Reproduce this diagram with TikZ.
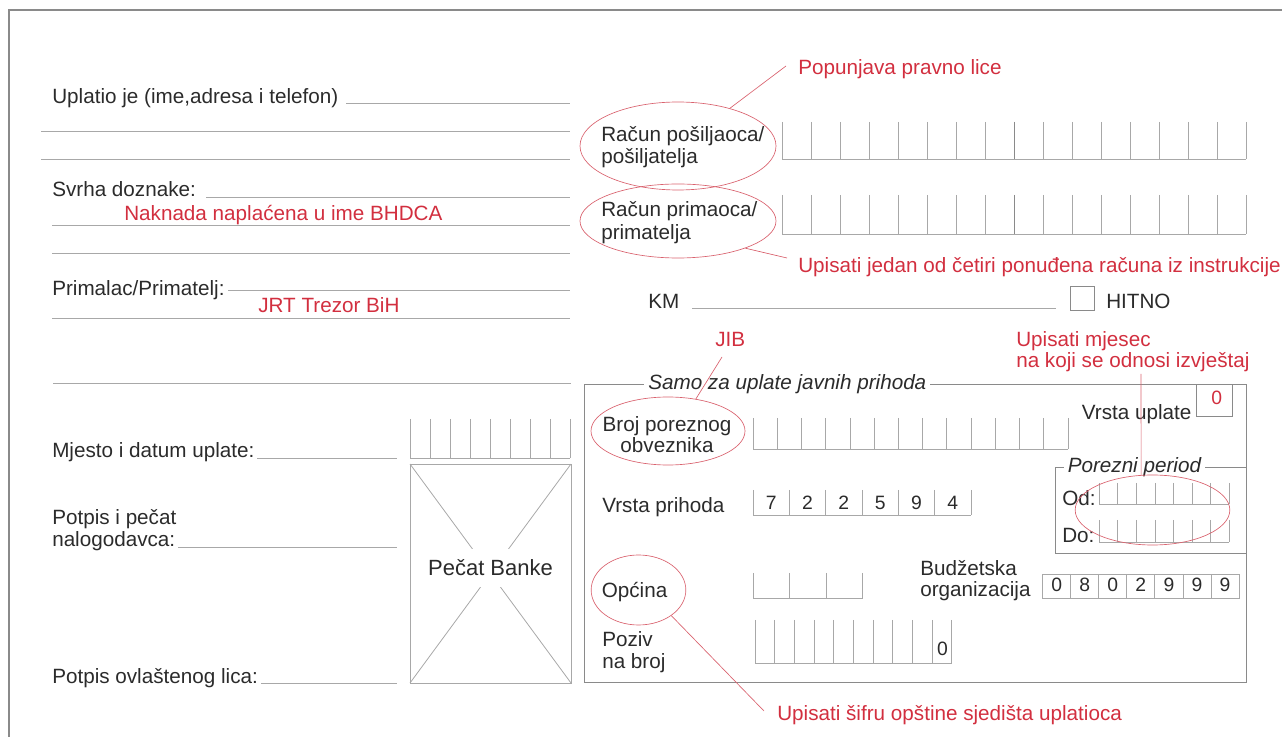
\documentclass[tikz,border=0pt]{standalone}
\usepackage{fontspec}
\setmainfont{Liberation Sans}
\usetikzlibrary{shapes.geometric}
\definecolor{txt}{HTML}{2B2B2B}
\definecolor{redtxt}{HTML}{D22F3F}
\definecolor{ln}{HTML}{A8A8A8}
\definecolor{frm}{HTML}{8A8A8A}
\definecolor{redln}{HTML}{D9626E}
\newcommand\combrow[5]{%
  \draw[gridline] (#1,#5) -- ({#1+#2*#3},#5);
  \foreach \i in {0,...,#3} \draw[gridline] ({#1+\i*#2},#4) -- ({#1+\i*#2},#5);
}
\tikzset{
  lbl/.style={anchor=base west,inner sep=0pt,text=txt,font=\fontsize{15.5}{18}\selectfont},
  rlbl/.style={lbl,text=redtxt},
  clbl/.style={lbl,anchor=base},
  dig/.style={anchor=base,inner sep=0pt,text=txt,font=\fontsize{14.5}{17}\selectfont},
  fillline/.style={draw=ln,line width=0.7pt},
  gridline/.style={draw=ln,line width=0.6pt},
  frameline/.style={draw=frm,line width=0.6pt},
  oval/.style={ellipse,draw=redln,line width=0.5pt,inner sep=0pt},
  leader/.style={draw=redln,line width=0.5pt},
}
\begin{document}
\begin{tikzpicture}[x=0.75pt,y=-0.75pt]
\useasboundingbox (0,0) rectangle (1282,737);
% outer border
\draw[draw=frm,line width=1.1pt] (9,737) -- (9,10) -- (1282,10);

% ---------- left column ----------
\node[lbl] (uplatio) at (52,104) {Uplatio je (ime,adresa i telefon)};
\draw[fillline] (346,103) -- (570,103);
\draw[fillline] (41,131) -- (570,131);
\draw[fillline] (41,159) -- (570,159);
\node[lbl] (svrha) at (52,197) {Svrha doznake:};
\draw[fillline] (206,197) -- (570,197);
\node[rlbl] (naknada) at (124,221) {Naknada naplaćena u ime BHDCA};
\draw[fillline] (52,225) -- (570,225);
\draw[fillline] (52,253) -- (570,253);
\node[lbl] (primalac) at (52,296) {Primalac/Primatelj:};
\draw[fillline] (228,290) -- (570,290);
\node[rlbl] (jrt) at (258,313) {JRT Trezor BiH};
\draw[fillline] (52,318) -- (570,318);
\draw[fillline] (53,383) -- (571,383);

\node[lbl] (mjesto) at (52,458) {Mjesto i datum uplate:};
\draw[fillline] (257,458) -- (397,458);
\combrow{410}{20}{8}{419}{458}
\node[lbl] (potpis1) at (52,525) {Potpis i pečat};
\node[lbl] (potpis2) at (52,547) {nalogodavca:};
\draw[fillline] (178,547) -- (397,547);
\node[lbl] (ovl) at (52,683) {Potpis ovlaštenog lica:};
\draw[fillline] (261,683) -- (397,683);

% stamp box
\draw[gridline] (410,464) rectangle (571,683);
\draw[gridline] (410,464) -- (571,683);
\draw[gridline] (571,464) -- (410,683);
\node[anchor=center,fill=white,inner xsep=3pt,inner ysep=8pt,text=txt,font=\fontsize{16.5}{18}\selectfont] (pecat) at (490.5,568) {Pečat Banke};

% ---------- right column, accounts ----------
\node[rlbl] (popun) at (798,75) {Popunjava pravno lice};
\node[oval,minimum width=147pt,minimum height=66pt] (e1) at (678,146) {};
\coordinate (p1) at (786,66);
\draw[leader] (e1.36) -- (p1);
\node[lbl] (rac1a) at (601,142) {Račun pošiljaoca/};
\node[lbl] (rac1b) at (601,164) {pošiljatelja};
\combrow{782}{29}{16}{122}{159}
\draw[draw=frm,line width=0.7pt] (1014,122) -- (1014,159);

\node[oval,minimum width=147pt,minimum height=55.5pt] (e2) at (678,221) {};
\node[lbl] (rac2a) at (601,217) {Račun primaoca/};
\node[lbl] (rac2b) at (601,240) {primatelja};
\combrow{782}{29}{16}{195}{234}
\draw[draw=frm,line width=0.7pt] (1014,195) -- (1014,234);
\coordinate (p2) at (787,258);
\draw[leader] (e2.-22) -- (p2);
\node[rlbl] (upis1) at (798,273) {Upisati jedan od četiri ponuđena računa iz instrukcije};

\node[lbl] (km) at (648,309) {KM};
\draw[fillline] (692,308) -- (1056,308);
\node[draw=frm,line width=0.6pt,minimum width=18.5pt,minimum height=17.5pt,inner sep=0pt] (chk) at (1082.5,298.5) {};
\node[lbl] (hitno) at (1106,309) {HITNO};

\node[rlbl] (jib) at (715,347) {JIB};
\node[rlbl] (mjesec1) at (1016,347) {Upisati mjesec};
\node[rlbl] (mjesec2) at (1016,368) {na koji se odnosi izvještaj};

% ---------- public revenue frame ----------
\draw[frameline] (584.5,384) rectangle (1246,682);
\node[lbl,anchor=west,fill=white,inner xsep=3pt,inner ysep=1pt,font=\fontsize{15.5}{18}\selectfont\itshape] (samo) at (644,384) {Samo za uplate javnih prihoda};

\node[oval,minimum width=115.5pt,minimum height=51pt] (e3) at (668,431) {};
\node[clbl] (broj1) at (667,432) {Broj poreznog};
\node[clbl] (broj2) at (667,453) {obveznika};
\coordinate (p3) at (722,357);
\draw[leader] (p3) -- (e3.49);
\combrow{753}{24.23}{13}{418}{449}

\node[lbl] (vrstau) at (1081.7,420) {Vrsta uplate};
\node[draw=frm,line width=0.6pt,minimum width=26.5pt,minimum height=24.5pt,inner sep=0pt] (vubox) at (1214.5,400.5) {};
\node[dig,text=redtxt] (vu0) at (1216.7,405) {0};

\node[lbl] (vrstap) at (602,513) {Vrsta prihoda};
\combrow{753}{36.33}{6}{490}{515}
\foreach \d [count=\k from 0] in {7,2,2,5,9,4}
  \node[dig] (vp\k) at ({753+36.33*(\k+0.5)},510) {\d};

% porezni period
\draw[frameline] (1055,467) rectangle (1246,553);
\node[lbl,anchor=west,fill=white,inner xsep=3pt,inner ysep=1pt,font=\fontsize{15.5}{18}\selectfont\itshape] (porez) at (1063.5,467) {Porezni period};
\node[lbl] (od) at (1062,506) {Od:};
\combrow{1099.3}{18.57}{7}{483}{504}
\node[lbl] (do) at (1062,543) {Do:};
\combrow{1099.3}{18.57}{7}{520}{542}
\node[oval,minimum width=116pt,minimum height=52.5pt] (e5) at (1152.5,510) {};
\coordinate (p5) at (1141,374);
\draw[leader] (p5) -- (e5.108);

% opcina
\node[oval,minimum width=71pt,minimum height=52.5pt] (e4) at (638.5,590) {};
\node[lbl] (opcina) at (601.5,598) {Općina};
\combrow{753}{36.5}{3}{573}{598}
\coordinate (p4) at (764,711);
\draw[leader] (e4.-38) -- (p4);
\node[rlbl] (sifra) at (777,720) {Upisati šifru opštine sjedišta uplatioca};

% budzetska
\node[lbl] (bud1) at (920,576) {Budžetska};
\node[lbl] (bud2) at (920,597) {organizacija};
\draw[gridline] (1042.7,574) rectangle (1239,598);
\foreach \i in {1,...,6} \draw[gridline] ({1042.7+28.04*\i},574) -- ({1042.7+28.04*\i},598);
\foreach \d [count=\k from 0] in {0,8,0,2,9,9,9}
  \node[dig] (bo\k) at ({1042.7+28.04*(\k+0.5)},592) {\d};

% poziv na broj
\node[lbl] (poziv1) at (602,647) {Poziv};
\node[lbl] (poziv2) at (602,668) {na broj};
\combrow{755}{19.67}{10}{620}{663}
\node[dig] (pz0) at (942.5,655) {0};
\end{tikzpicture}
\end{document}
